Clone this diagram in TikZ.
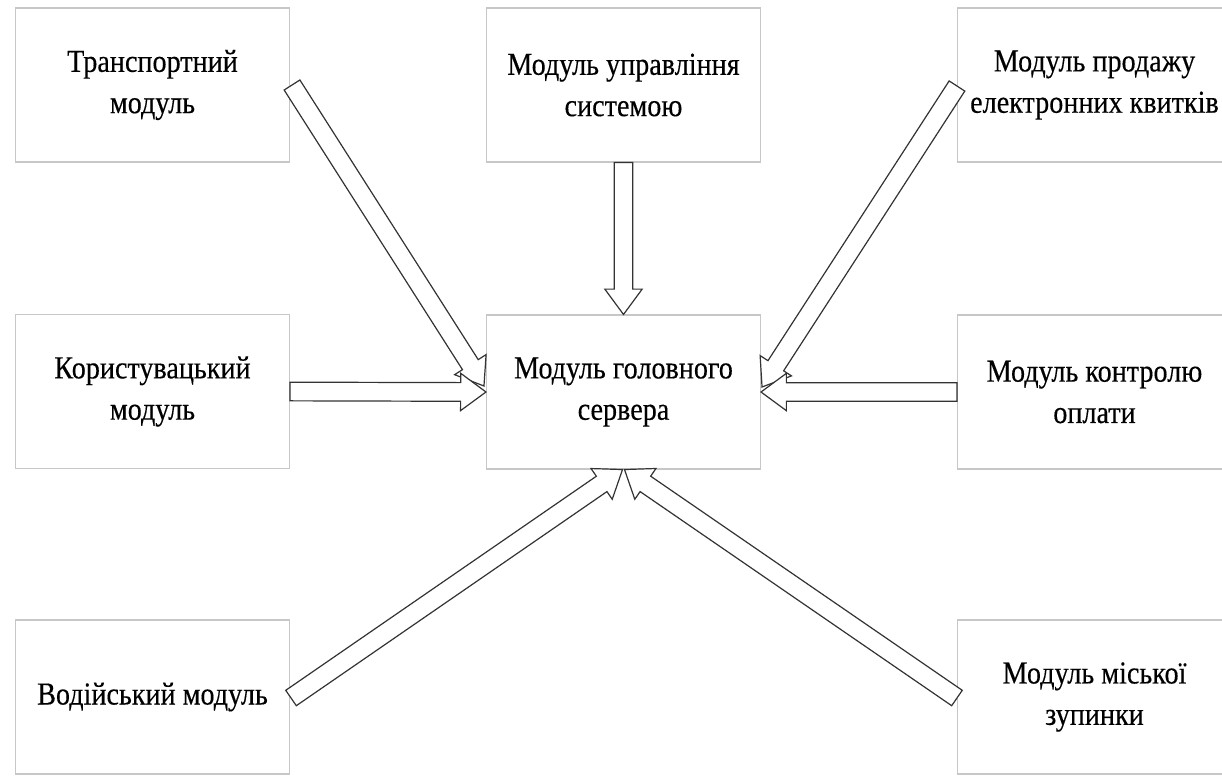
\documentclass[tikz,border=0pt]{standalone}
\usepackage{fontspec}
\setmainfont[FakeStretch=0.88,FakeBold=0.3]{Liberation Serif}
\usetikzlibrary{calc}
\tikzset{
  modbox/.style={draw=black!22, line width=0.8pt, fill=white, minimum width=205.5pt, minimum height=115.5pt,
    inner sep=0pt, align=center, font=\fontsize{24pt}{31pt}\selectfont},
  blk/.style={draw=black!80, line width=0.9pt, fill=white, line join=miter}
}
\newcommand\blockarr[2]{%
  \path ($(#2)!19pt!(#1)$) coordinate (hb);
  \draw[blk] ($(#1)!7pt!90:(#2)$) -- ($(hb)!7pt!90:(#2)$) -- ($(hb)!14pt!90:(#2)$) -- (#2)
    -- ($(hb)!14pt!-90:(#2)$) -- ($(hb)!7pt!-90:(#2)$) -- ($(#1)!7pt!-90:(#2)$) -- cycle;}
\begin{document}
\begin{tikzpicture}[x=0.75pt,y=-0.75pt]
\useasboundingbox (0,0) rectangle (1222,776);
\clip (0,0) rectangle (1222,776);
\fill[white] (0,0) rectangle (1222,776);
% boxes
\node[modbox] (trans)  at (152.5,85)   {Транспортний\\модуль};
\node[modbox] (sys)    at (623.5,85)   {Модуль управління\\системою};
\node[modbox] (sale)   at (1094.5,85)  {Модуль продажу\\електронних квитків};
\node[modbox] (user)   at (152.5,391.5){Користувацький\\модуль};
\node[modbox] (center) at (623.5,392)  {Модуль головного\\сервера};
\node[modbox] (pay)    at (1094.5,392) {Модуль контролю\\оплати};
\node[modbox] (driver) at (152.5,697)  {Водійський модуль};
\node[modbox] (stop)   at (1094.5,697) {Модуль міської\\зупинки};
% connector end points
\coordinate (t1) at ($(trans.east)+(2,0)$);
\coordinate (h1) at ($(center.west)+(-2,-6)$);
\coordinate (t4) at ($(sale.west)+(0,1)$);
\coordinate (h4) at ($(center.east)+(1,-5)$);
\coordinate (t6) at ($(driver.east)+(1,1)$);
\coordinate (h6) at ($(center.south)+(-1,0)$);
\coordinate (t7) at ($(stop.west)+(0,1)$);
\coordinate (h7) at ($(center.south)+(1,0)$);
% arrows
\blockarr{t1}{h1}
\blockarr{user.east}{center.west}
\blockarr{sys.south}{center.north}
\blockarr{t4}{h4}
\blockarr{pay.west}{center.east}
\blockarr{t6}{h6}
\blockarr{t7}{h7}
\end{tikzpicture}
\end{document}
